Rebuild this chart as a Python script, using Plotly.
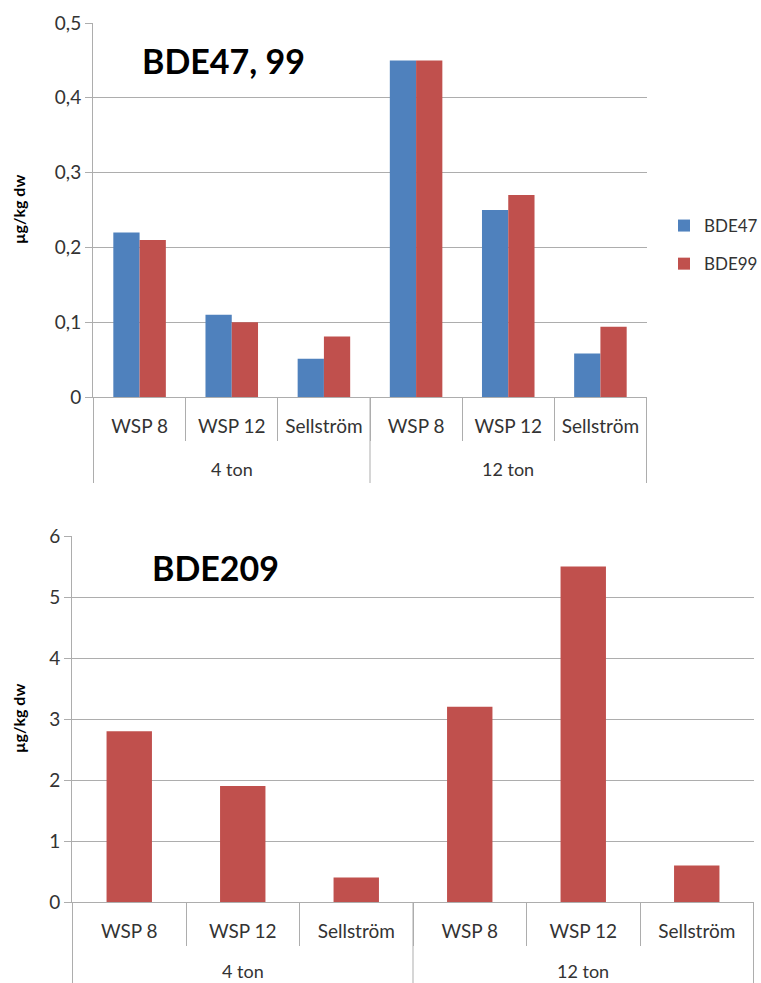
import plotly.graph_objects as go

# Sample groups (load) and sampling points
groups = ["4 ton", "4 ton", "4 ton", "12 ton", "12 ton", "12 ton"]
sites = ["WSP 8", "WSP 12", "Sellström", "WSP 8", "WSP 12", "Sellström"]

# Concentrations, µg/kg dw
bde47 = [0.22, 0.11, 0.051, 0.45, 0.25, 0.058]
bde99 = [0.21, 0.10, 0.081, 0.45, 0.27, 0.094]
bde209 = [2.8, 1.9, 0.4, 3.2, 5.5, 0.6]

y_ticks_top = [0, 0.1, 0.2, 0.3, 0.4, 0.5]
y_ticks_bottom = [0, 1, 2, 3, 4, 5, 6]

BLUE = "#4F81BD"
RED = "#C0504D"
GRID = "#ADADAD"
FONT = "Lato"
TXT = "#333333"

W, H = 761, 983

# one unique category per bar position, labelled by site name
cats = [f"{g} | {s}" for g, s in zip(groups, sites)]
group_names = list(dict.fromkeys(groups))


def px_x(p):
    return p / W


def px_y(p):
    return 1 - p / H


fig = go.Figure()
fig.add_trace(go.Bar(x=cats, y=bde47, name="BDE47", marker_color=BLUE,
                     marker_line_width=0, xaxis="x", yaxis="y",
                     legendgroup="a"))
fig.add_trace(go.Bar(x=cats, y=bde99, name="BDE99", marker_color=RED,
                     marker_line_width=0, xaxis="x", yaxis="y",
                     legendgroup="b"))
fig.add_trace(go.Bar(x=cats, y=bde209, name="BDE209", marker_color=RED,
                     marker_line_width=0, xaxis="x2", yaxis="y2",
                     width=0.4, showlegend=False))

xcommon = dict(
    type="category", showline=True, linecolor=GRID, linewidth=1,
    tickvals=cats, ticktext=sites,
    ticks="outside", tickson="boundaries", ticklen=43, tickcolor=GRID,
    ticklabelstandoff=12, automargin=False,
    tickfont=dict(family=FONT, size=19, color=TXT), showgrid=False,
    fixedrange=True,
)
ycommon = dict(
    showline=True, linecolor=GRID, linewidth=1, ticks="outside", ticklen=7,
    tickcolor=GRID, showgrid=True, gridcolor=GRID, gridwidth=1,
    zeroline=False, automargin=False,
    tickfont=dict(family=FONT, size=19, color=TXT),
)

annotations = [
    dict(text="<b>BDE47, 99</b>", xref="paper", yref="paper",
         x=px_x(140), y=px_y(60), xanchor="left", yanchor="middle",
         showarrow=False, font=dict(family=FONT, size=34, color="#000")),
    dict(text="<b>BDE209</b>", xref="paper", yref="paper",
         x=px_x(150), y=px_y(567), xanchor="left", yanchor="middle",
         showarrow=False, font=dict(family=FONT, size=34, color="#000")),
]
# y-axis titles
for yc in (210, 719):
    annotations.append(dict(
        text="<b>µg/kg dw</b>", xref="paper", yref="paper",
        x=px_x(18), y=px_y(yc), textangle=-90, showarrow=False,
        xanchor="center", yanchor="middle",
        font=dict(family=FONT, size=16, color="#000")))

shapes = []
# group labels and group dividers under each category axis
for xa, axis_y, label_y, div_bottom in (("x", 397, 469, 483),
                                        ("x2", 902, 971, 990)):
    for gname in group_names:
        idx = [i for i, g in enumerate(groups) if g == gname]
        annotations.append(dict(
            text=gname, xref=xa, yref="paper",
            x=(idx[0] + idx[-1]) / 2, y=px_y(label_y),
            xanchor="center", yanchor="middle", showarrow=False,
            font=dict(family=FONT, size=18, color=TXT)))
    bounds = [-0.5] + [i + 0.5 for i in range(len(groups) - 1)
                       if groups[i] != groups[i + 1]] + [len(groups) - 0.5]
    for b in bounds:
        shapes.append(dict(
            type="line", xref=xa, yref="paper", x0=b, x1=b,
            y0=px_y(axis_y), y1=px_y(div_bottom),
            line=dict(color=GRID, width=1)))

fig.update_layout(
    width=W, height=H,
    margin=dict(l=0, r=0, t=0, b=0, autoexpand=False),
    paper_bgcolor="white", plot_bgcolor="white",
    separators=", ", barmode="group", bargap=0.43, bargroupgap=0,
    showlegend=True,
    legend=dict(x=px_x(664), y=px_y(208), xanchor="left", yanchor="top",
                font=dict(family=FONT, size=17, color=TXT),
                traceorder="grouped", tracegroupgap=13,
                itemwidth=30),
    xaxis=dict(xcommon, domain=[px_x(93), px_x(647)], anchor="y"),
    yaxis=dict(ycommon, domain=[px_y(397), px_y(23)], anchor="x",
               range=[0, 0.5], tickvals=y_ticks_top),
    xaxis2=dict(xcommon, domain=[px_x(72), px_x(754)], anchor="y2"),
    yaxis2=dict(ycommon, domain=[px_y(902), px_y(536)], anchor="x2",
                range=[0, 6], tickvals=y_ticks_bottom),
    annotations=annotations,
    shapes=shapes,
)

fig.write_html("out.html")
